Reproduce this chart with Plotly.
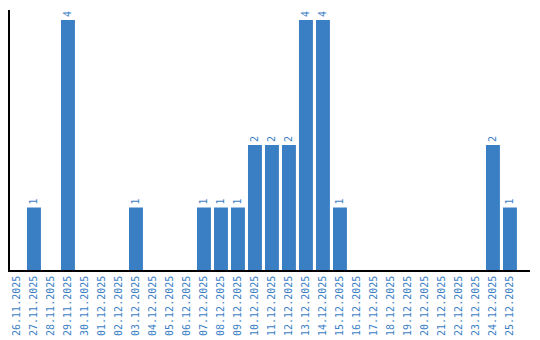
import plotly.graph_objects as go

dates = ["26.11.2025", "27.11.2025", "28.11.2025", "29.11.2025", "30.11.2025",
         "01.12.2025", "02.12.2025", "03.12.2025", "04.12.2025", "05.12.2025",
         "06.12.2025", "07.12.2025", "08.12.2025", "09.12.2025", "10.12.2025",
         "11.12.2025", "12.12.2025", "13.12.2025", "14.12.2025", "15.12.2025",
         "16.12.2025", "17.12.2025", "18.12.2025", "19.12.2025", "20.12.2025",
         "21.12.2025", "22.12.2025", "23.12.2025", "24.12.2025", "25.12.2025"]
counts = [0, 1, 0, 4, 0, 0, 0, 1, 0, 0, 0, 1, 1, 1, 2, 2, 2, 4, 4, 1,
          0, 0, 0, 0, 0, 0, 0, 0, 2, 1]

blue = "#3a7ec4"
labels = [str(v) if v else "" for v in counts]

fig = go.Figure(go.Bar(
    x=dates, y=counts, marker_color=blue, marker_line_width=0,
    text=labels, textposition="outside", textangle=-90,
    textfont=dict(family="DejaVu Sans Mono", size=10, color=blue),
    cliponaxis=False,
))
fig.update_layout(
    width=540, height=340,
    margin=dict(l=10, r=10, t=10, b=70),
    plot_bgcolor="white", paper_bgcolor="white",
    bargap=0.18, showlegend=False,
    xaxis=dict(showline=True, linecolor="black", linewidth=1.5, tickangle=-90,
               tickfont=dict(family="DejaVu Sans Mono", size=10, color=blue),
               ticks="", showgrid=False, type="category", automargin=False,
               range=[-0.41, 30.18]),
    yaxis=dict(showline=True, linecolor="black", linewidth=1.5, range=[0, 4.16],
               showticklabels=False, ticks="", showgrid=False, zeroline=False,
               automargin=False),
)
fig.write_html("out.html")
